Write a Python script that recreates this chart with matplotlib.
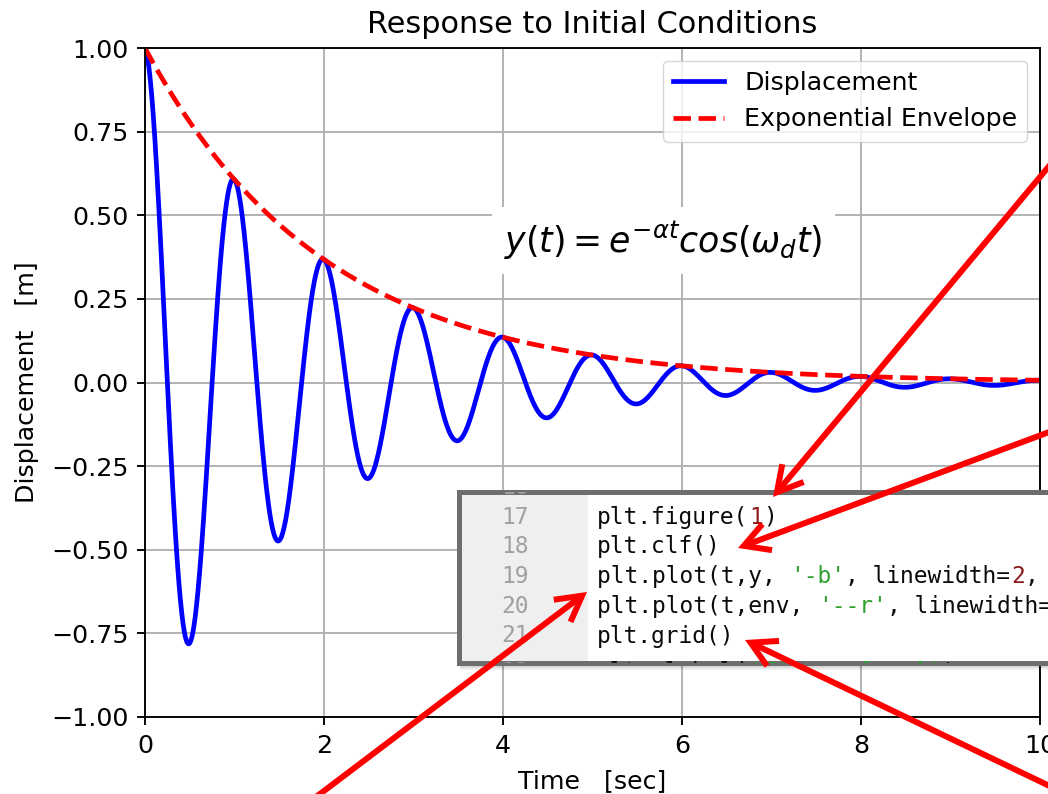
import numpy as np
import matplotlib
matplotlib.use("Agg")
import matplotlib.pyplot as plt
from matplotlib.patches import Rectangle, FancyArrowPatch, ArrowStyle

# parametros (picos em t=1,2,3... e amplitude e^-0.5t)
ALPHA = 0.5
PERIOD = 1.0
T_END = 10
N_PTS = 2001

X_TICKS = [0, 2, 4, 6, 8, 10]
Y_TICKS = [-1.00, -0.75, -0.50, -0.25, 0.00, 0.25, 0.50, 0.75, 1.00]

CODE_LINES = [
    ("16", []),
    ("17", [("plt.figure(", "k"), ("1", "num"), (")", "k")]),
    ("18", [("plt.clf()", "k")]),
    ("19", [("plt.plot(t,y, ", "k"), ("'-b'", "str"), (", linewidth=", "k"), ("2", "num"),
            (", label=", "k"), ("'Displacement'", "str"), (")", "k")]),
    ("20", [("plt.plot(t,env, ", "k"), ("'--r'", "str"), (", linewidth=", "k"), ("2", "num"),
            (", label=", "k"), ("'Exponential Envelope'", "str"), (")", "k")]),
    ("21", [("plt.grid()", "k")]),
    ("22", [("plt.xlabel(", "k"), ("'Time   [sec]'", "str"), (")", "k")]),
]
CODE_COLORS = {"k": "#0a0a0a", "num": "#8b1a1a", "str": "#2ea02e"}

# setas (x, y a partir do topo, em pixels): cauda -> ponta
ARROWS = [
    ((1060, 153), (773, 497)),
    ((1060, 428), (738, 548)),
    ((312, 800), (587, 592)),
    ((1060, 791), (745, 640)),
]

W, H = 1048, 794
SC = 1.7      # escala das linhas
FS = 1.82     # escala das fontes

plt.rcParams["font.family"] = ["DejaVu Sans"]
plt.rcParams["font.size"] = 10 * FS
plt.rcParams["axes.linewidth"] = 0.8 * SC
plt.rcParams["grid.linewidth"] = 0.8 * SC
plt.rcParams["xtick.major.width"] = 0.8 * SC
plt.rcParams["ytick.major.width"] = 0.8 * SC
plt.rcParams["xtick.major.size"] = 3.5 * SC
plt.rcParams["ytick.major.size"] = 3.5 * SC
plt.rcParams["xtick.major.pad"] = 3.5 * SC
plt.rcParams["ytick.major.pad"] = 3.5 * SC
plt.rcParams["axes.titlepad"] = 6.5 * SC
plt.rcParams["axes.labelpad"] = 5 * SC
plt.rcParams["legend.fontsize"] = 10 * FS

t = np.linspace(0, T_END, N_PTS)
wd = 2 * np.pi / PERIOD
env = np.exp(-ALPHA * t)
y = env * np.cos(wd * t)

fig = plt.figure(figsize=(W / 100, H / 100), dpi=100)
ax = fig.add_axes([145 / W, 1 - 717 / H, (1040 - 145) / W, (717 - 48) / H])
ax.plot(t, y, '-b', linewidth=2 * SC, label='Displacement')
ax.plot(t, env, '--r', linewidth=2 * SC, label='Exponential Envelope')
ax.grid()
ax.set_xlim(0, T_END)
ax.set_ylim(-1, 1)
ax.set_xticks(X_TICKS)
ax.set_yticks(Y_TICKS)
ax.set_xlabel('Time   [sec]')
ax.set_ylabel('Displacement   [m]')
ax.set_title('Response to Initial Conditions')
ax.legend(loc='upper right')
ax.text(5.79, 0.425, r'$y(t) = e^{-\alpha t} cos(\omega_d t)$', fontsize=25,
        ha='center', va='center',
        bbox=dict(boxstyle='square,pad=0.35', facecolor='white', edgecolor='none'))

# sombra da caixa de codigo
bx0, bx1, by0, by1 = 458.5, 1100, 491.5, 662.5
for k in range(1, 8):
    fig.patches.append(Rectangle(((bx0 + 1) / W, 1 - (by1 + k) / H), (bx1 - bx0) / W, (by1 - by0) / H,
                                 transform=fig.transFigure, facecolor='black', alpha=0.045,
                                 edgecolor='none', zorder=2))

# caixa com o codigo
cax = fig.add_axes([bx0 / W, 1 - by1 / H, (bx1 - bx0) / W, (by1 - by0) / H])
cax.set_zorder(5)
cax.set_xlim(bx0, bx1)
cax.set_ylim(by1, by0)
cax.set_xticks([])
cax.set_yticks([])
cax.set_facecolor('white')
for s in cax.spines.values():
    s.set_color('#6e6e6e')
    s.set_linewidth(3.6)
cax.add_patch(Rectangle((bx0, by0), 588 - bx0, by1 - by0, facecolor='#efefef', edgecolor='none'))

line0 = 487.5
dy = 29.7
cw = 13.8
for i, (num, segs) in enumerate(CODE_LINES):
    yy = line0 + i * dy
    if i == len(CODE_LINES) - 1:
        yy += 7   # ultima linha quase toda escondida pela borda
    cax.text(529, yy, num, family='DejaVu Sans Mono', fontsize=16.5, color='#a0a0a0',
             ha='right', va='center', clip_on=True)
    n = 0
    for txt, c in segs:
        cax.text(597 + n * cw, yy, txt, family='DejaVu Sans Mono', fontsize=16.5,
                 color=CODE_COLORS[c], ha='left', va='center', clip_on=True)
        n += len(txt)

# setas vermelhas
style = ArrowStyle('->', head_length=18, head_width=10)
for (x0, y0), (x1, y1) in ARROWS:
    a = FancyArrowPatch((x0 / W, 1 - y0 / H), (x1 / W, 1 - y1 / H), transform=fig.transFigure,
                        arrowstyle=style, color='#ff0000', linewidth=4.3, shrinkA=0, shrinkB=0,
                        joinstyle='miter', capstyle='butt', zorder=10)
    fig.patches.append(a)

fig.savefig('out.png', dpi=100)
